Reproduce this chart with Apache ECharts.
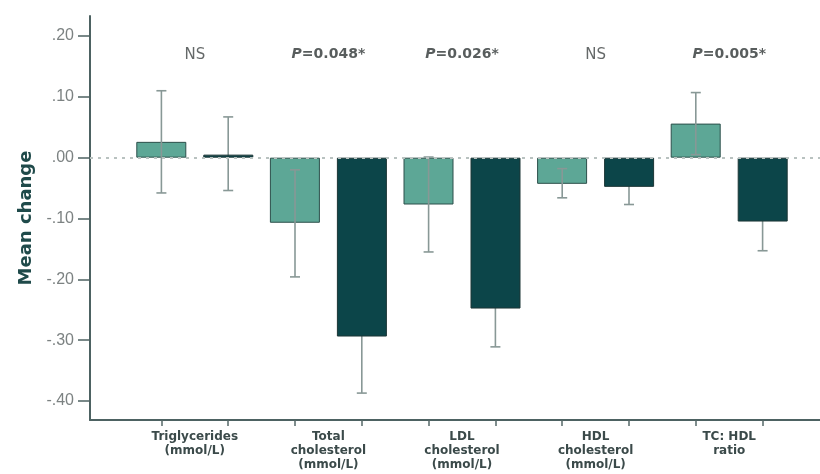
<!DOCTYPE html>
<html>
<head>
<meta charset="utf-8">
<script src="https://cdn.jsdelivr.net/npm/echarts@6/dist/echarts.min.js"></script>
<style>html,body{margin:0;padding:0;background:#fff;}#c{width:820px;height:474px;}</style>
</head>
<body>
<div id="c"></div>
<script>
var categories = ['Triglycerides\n(mmol/L)', 'Total\ncholesterol\n(mmol/L)', 'LDL\ncholesterol\n(mmol/L)', 'HDL\ncholesterol\n(mmol/L)', 'TC: HDL\nratio'];
var annotations = ['NS', 'P=0.048*', 'P=0.026*', 'NS', 'P=0.005*'];
var lightMean = [0.026, -0.107, -0.077, -0.043, 0.056];
var lightLow  = [-0.058, -0.196, -0.155, -0.066, 0.005];
var lightHigh = [0.110, -0.020, 0.001, -0.018, 0.107];
var darkMean  = [0.005, -0.294, -0.248, -0.048, -0.105];
var darkLow   = [-0.054, -0.387, -0.311, -0.077, -0.153];
var darkHigh  = [0.067, -0.201, -0.185, -0.019, -0.057];
var yTicks = [-0.4, -0.3, -0.2, -0.1, 0, 0.1, 0.2];
var annotationY = 0.169;

var tickCats = [];
for (var i = 0; i < categories.length * 2; i++) tickCats.push('t' + i);

function fmt(v) {
  var n = Math.round(Math.abs(v) * 100);
  var s = '.' + (n < 10 ? '0' + n : '' + n);
  return (v < -1e-9 ? '-' : '') + s;
}

function errData(lo, hi) {
  return lo.map(function (l, i) { return [i, l, hi[i]]; });
}

function errRender(side) {
  return function (params, api) {
    var i = api.value(0);
    var band = api.size([1, 0])[0];
    var x = api.coord([i, 0])[0] + side * band * 0.25;
    var yl = api.coord([i, api.value(1)])[1];
    var yh = api.coord([i, api.value(2)])[1];
    var cap = 5;
    var st = { stroke: '#889896', lineWidth: 1.6 };
    return {
      type: 'group',
      children: [
        { type: 'line', shape: { x1: x, y1: yl, x2: x, y2: yh }, style: st },
        { type: 'line', shape: { x1: x - cap, y1: yl, x2: x + cap, y2: yl }, style: st },
        { type: 'line', shape: { x1: x - cap, y1: yh, x2: x + cap, y2: yh }, style: st }
      ]
    };
  };
}

var chart = echarts.init(document.getElementById('c'));
var axisCol = '#4d6262';
var wide = 'DejaVu Sans';
chart.setOption({
  animation: false,
  backgroundColor: '#ffffff',
  grid: [
    { left: 90, right: 0, top: 16, bottom: 54 },
    { left: 128, right: 24, top: 36, bottom: 73 }
  ],
  xAxis: [
    { gridIndex: 0, type: 'value', min: 0, max: 1,
      axisLine: { show: true, onZero: false, lineStyle: { color: axisCol, width: 2 } },
      axisTick: { show: false }, axisLabel: { show: false }, splitLine: { show: false } },
    { gridIndex: 1, type: 'category', data: tickCats, position: 'bottom', offset: 19,
      axisLine: { show: false, onZero: false },
      axisTick: { show: true, alignWithLabel: true, length: 6, lineStyle: { color: '#556868', width: 1.5 } },
      axisLabel: { show: false } },
    { gridIndex: 1, type: 'category', data: categories, position: 'bottom', offset: 19,
      axisLine: { show: false, onZero: false }, axisTick: { show: false },
      axisLabel: { show: true, margin: 10, fontFamily: wide, fontSize: 12, fontWeight: 'bold',
        lineHeight: 14, color: '#3b4a4a', interval: 0 } }
  ],
  yAxis: [
    { gridIndex: 0, type: 'value', min: -0.4312, max: 0.2329,
      axisLine: { show: true, onZero: false, lineStyle: { color: axisCol, width: 2 } },
      axisTick: { show: false }, axisLabel: { show: false }, splitLine: { show: false },
      name: 'Mean change', nameLocation: 'middle', nameGap: 55,
      nameTextStyle: { fontFamily: wide, fontSize: 18, fontWeight: 'bold', color: '#1f4a4a' } },
    { gridIndex: 1, type: 'value', min: -0.4, max: 0.2, interval: 0.1, offset: 38,
      axisLine: { show: false, onZero: false },
      axisTick: { show: true, length: 12, lineStyle: { color: axisCol, width: 1.5 } },
      axisLabel: { show: true, margin: 16, fontFamily: 'Liberation Sans', fontSize: 16, color: '#7c8282', formatter: fmt },
      splitLine: { show: false } }
  ],
  series: [
    { type: 'line', xAxisIndex: 0, yAxisIndex: 0, data: [], silent: true,
      markLine: { silent: true, symbol: 'none', label: { show: false }, z: 10,
        lineStyle: { color: '#b9c2c0', width: 2, type: [3, 5] },
        data: [{ yAxis: 0 }] } },
    { type: 'bar', xAxisIndex: 2, yAxisIndex: 1, data: lightMean, barWidth: 50, barGap: '34%', z: 2,
      itemStyle: { color: '#5da796', borderColor: '#2c4f4a', borderWidth: 1 } },
    { type: 'bar', xAxisIndex: 2, yAxisIndex: 1, data: darkMean, barWidth: 50, barGap: '34%', z: 2,
      itemStyle: { color: '#0c4549', borderColor: '#1c3636', borderWidth: 1 } },
    { type: 'custom', xAxisIndex: 2, yAxisIndex: 1, data: errData(lightLow, lightHigh), z: 3,
      renderItem: errRender(-1), encode: { x: 0, y: [1, 2] } },
    { type: 'custom', xAxisIndex: 2, yAxisIndex: 1, data: errData(darkLow, darkHigh), z: 1,
      renderItem: errRender(1), encode: { x: 0, y: [1, 2] } },
    { type: 'scatter', xAxisIndex: 2, yAxisIndex: 1, symbolSize: 0, silent: true,
      data: annotations.map(function (a, i) { return [i, annotationY, a]; }),
      label: { show: true, position: 'inside', fontFamily: wide, fontSize: 14, color: '#2e3434',
        formatter: function (p) {
          var t = p.value[2];
          if (t.charAt(0) === 'P') return '{i|P}{b|' + t.slice(1) + '}';
          return '{n|' + t + '}';
        },
        rich: {
          i: { fontFamily: wide, fontSize: 14, fontStyle: 'italic', fontWeight: 'bold', color: '#2e3434' },
          b: { fontFamily: wide, fontSize: 14, fontWeight: 'bold', color: '#2e3434' },
          n: { fontFamily: wide, fontSize: 15, color: '#3e4444' }
        } } }
  ]
});
</script>
</body>
</html>
